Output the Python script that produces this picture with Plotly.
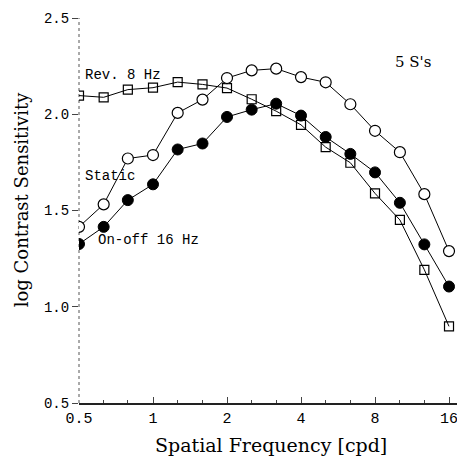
import math
import plotly.graph_objects as go

# Spatial frequencies (cpd), 1/3-octave steps from 0.5 to 16
freq = [0.5, 0.63, 0.79, 1.0, 1.26, 1.59, 2.0, 2.52, 3.17, 4.0, 5.04, 6.35, 8.0, 10.1, 12.7, 16.0]

# log contrast sensitivity
static = [1.415, 1.532, 1.770, 1.788, 2.007, 2.076, 2.188, 2.228, 2.237, 2.193, 2.166, 2.052, 1.914, 1.803, 1.585, 1.289]
onoff16 = [1.326, 1.415, 1.554, 1.636, 1.817, 1.848, 1.986, 2.024, 2.055, 1.993, 1.882, 1.794, 1.698, 1.540, 1.324, 1.105]
rev8 = [2.097, 2.088, 2.128, 2.138, 2.167, 2.155, 2.136, 2.078, 2.016, 1.945, 1.829, 1.748, 1.589, 1.451, 1.192, 0.898]

x_ticks = [0.5, 1, 2, 4, 8, 16]
x_ticklabels = ["0.5", "1", "2", "4", "8", "16"]
y_ticks = [0.5, 1.0, 1.5, 2.0, 2.5]
y_ticklabels = ["0.5", "1.0", "1.5", "2.0", "2.5"]

fig = go.Figure()

line = dict(color="black", width=1)
fig.add_trace(go.Scatter(x=freq, y=rev8, mode="lines+markers", line=line,
                         marker=dict(symbol="square-open", size=9, color="black",
                                     line=dict(width=1.2, color="black"))))
fig.add_trace(go.Scatter(x=freq, y=static, mode="lines+markers", line=line,
                         marker=dict(symbol="circle", size=11, color="white",
                                     line=dict(width=1.2, color="black"))))
fig.add_trace(go.Scatter(x=freq, y=onoff16, mode="lines+markers", line=line,
                         marker=dict(symbol="circle", size=11, color="black",
                                     line=dict(width=1, color="black"))))

mono = "Liberation Mono"
serif = "DejaVu Serif"

ann = [
    dict(text="Rev. 8 Hz", x=math.log10(0.519), y=2.202, font=dict(family=mono, size=14)),
    dict(text="Static", x=math.log10(0.52), y=1.679, font=dict(family=mono, size=14)),
    dict(text="On-off 16 Hz", x=math.log10(0.586), y=1.347, font=dict(family=mono, size=14)),
    dict(text="5 S's", x=math.log10(9.47), y=2.269, font=dict(family=serif, size=15)),
]
for a in ann:
    fig.add_annotation(text=a["text"], x=a["x"], y=a["y"], xref="x", yref="y",
                       xanchor="left", yanchor="middle", showarrow=False,
                       font=dict(color="black", family=a["font"]["family"], size=a["font"]["size"]))

# axis titles as annotations for exact placement
fig.add_annotation(text="Spatial Frequency [cpd]", xref="paper", yref="paper",
                   x=0.508, y=-0.109, xanchor="center", yanchor="middle", showarrow=False,
                   font=dict(family=serif, size=19, color="black"))
fig.add_annotation(text="log Contrast Sensitivity", xref="paper", yref="paper",
                   x=-0.15, y=0.53, xanchor="center", yanchor="middle", showarrow=False,
                   textangle=-90, font=dict(family=serif, size=18, color="black"))

x_lo = math.log10(0.5)
x_hi = math.log10(16) + 0.0325

fig.update_layout(
    width=457, height=459,
    margin=dict(l=79, r=0, t=18, b=56),
    paper_bgcolor="white", plot_bgcolor="white",
    showlegend=False,
    xaxis=dict(type="log", range=[x_lo, x_hi], automargin=False,
               tickmode="array", tickvals=x_ticks, ticktext=x_ticklabels,
               ticklabeloverflow="allow",
               ticks="inside", ticklen=6, tickwidth=1, tickcolor="#444",
               minor=dict(tickmode="array", tickvals=freq, ticks="inside", ticklen=3,
                          tickcolor="#444", showgrid=False),
               showline=True, linecolor="#222", linewidth=1.5, mirror=False,
               showgrid=False, zeroline=False,
               tickfont=dict(family=mono, size=15, color="black")),
    yaxis=dict(range=[0.5, 2.5], automargin=False,
               tickmode="array", tickvals=y_ticks, ticktext=y_ticklabels,
               ticks="outside", ticklen=6, tickwidth=1, tickcolor="#444",
               showline=False, showgrid=False, zeroline=False,
               tickfont=dict(family=mono, size=14, color="black")),
    shapes=[dict(type="line", xref="paper", yref="paper", x0=0, x1=0, y0=0, y1=1,
                 line=dict(color="#555", width=1, dash="dot"), layer="below")],
)

# remove the browser's default page margin so the figure fills the window exactly
fig.write_html("out.html", config={"displayModeBar": False},
               post_script="document.body.style.margin='0px';document.body.style.overflow='hidden';")
